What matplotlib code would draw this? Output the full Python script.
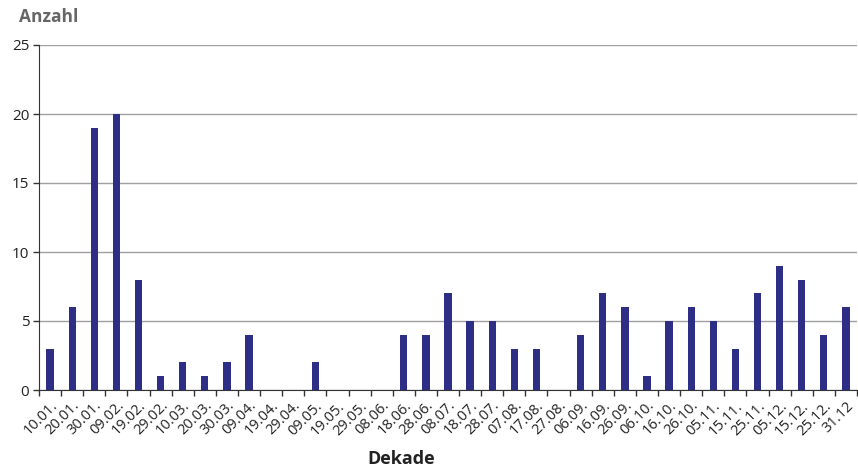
import matplotlib
matplotlib.use("Agg")
import matplotlib.pyplot as plt
import numpy as np

categories = ["10.01.", "20.01.", "30.01.", "09.02.", "19.02.", "29.02.", "10.03.", "20.03.",
              "30.03.", "09.04.", "19.04.", "29.04.", "09.05.", "19.05.", "29.05.", "08.06.",
              "18.06.", "28.06.", "08.07.", "18.07.", "28.07.", "07.08.", "17.08.", "27.08.",
              "06.09.", "16.09.", "26.09.", "06.10.", "16.10.", "26.10.", "05.11.", "15.11.",
              "25.11.", "05.12.", "15.12.", "25.12.", "31.12"]
values = [3, 6, 19, 20, 8, 1, 2, 1, 2, 4, 0, 0, 2, 0, 0, 0, 4, 4, 7, 5, 5, 3, 3, 0,
          4, 7, 6, 1, 5, 6, 5, 3, 7, 9, 8, 4, 6]
yticks = [0, 5, 10, 15, 20, 25]

plt.rcParams['font.family'] = ['Open Sans', 'DejaVu Sans']

fig = plt.figure(figsize=(8.58, 4.72), dpi=100)
ax = fig.add_axes([39/858, 1-390/472, (857-39)/858, (390-45)/472])

x = np.arange(len(categories))
ax.bar(x, values, width=0.33, color="#2e2e87", zorder=3)

ax.set_xlim(-0.5, len(categories)-0.5)
ax.set_ylim(0, 25)
ax.set_yticks(yticks)
ax.set_yticklabels([str(v) for v in yticks], fontsize=11, color="#222222")
ax.yaxis.grid(True, color="#a0a0a0", linewidth=1.0, zorder=0)
ax.tick_params(axis='y', length=4, width=1, color="#333333", pad=3)

ax.set_xticks(x)
ax.set_xticklabels(categories, rotation=45, ha='right', rotation_mode='anchor',
                   fontsize=10.5, color="#222222")
ax.tick_params(axis='x', which='major', length=0, pad=6)
ax.set_xticks(np.arange(len(categories)+1)-0.5, minor=True)
ax.tick_params(axis='x', which='minor', length=4, width=1, color="#333333")

for s in ["top", "right"]:
    ax.spines[s].set_visible(False)
ax.spines["left"].set_color("#333333")
ax.spines["bottom"].set_color("#333333")

fig.text(19/858, 1-17/472, "Anzahl", fontsize=12.5, fontweight='bold', color="#666666",
         ha='left', va='center')
fig.text(401/858, 1-459/472, "Dekade", fontsize=13, fontweight='bold', color="#222222",
         ha='center', va='center')

fig.savefig("out.png", dpi=100)
